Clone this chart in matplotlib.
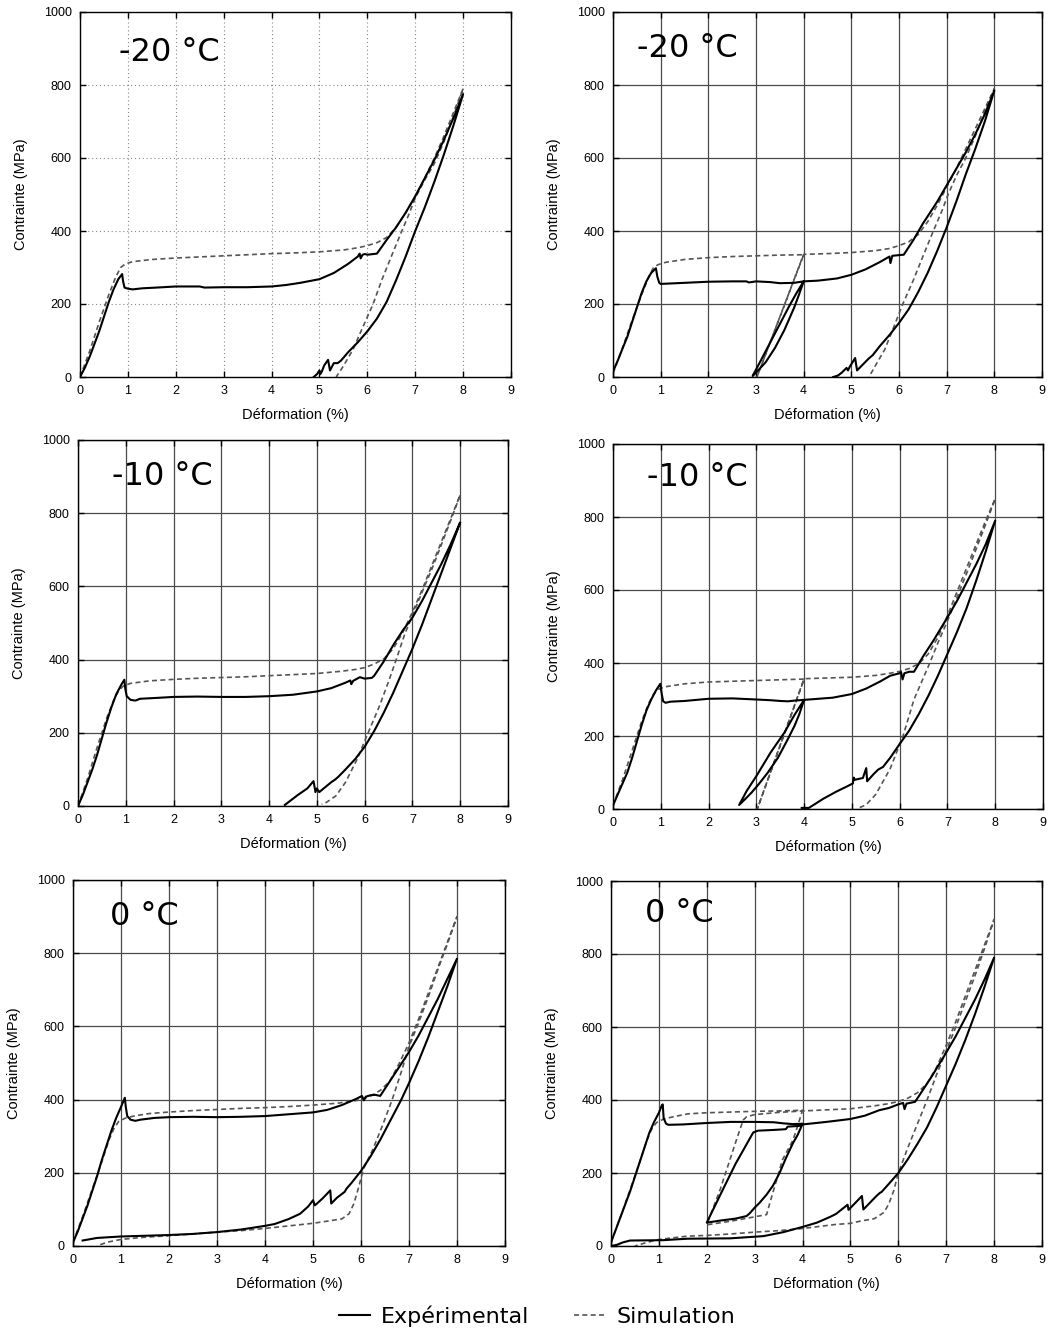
import matplotlib
matplotlib.use('Agg')
import matplotlib.pyplot as plt
from matplotlib.lines import Line2D

# ---- data (strain %, stress MPa) ----
panel_titles = ['-20 °C', '-20 °C', '-10 °C', '-10 °C', '0 °C', '0 °C']

# -20 C, one cycle
p1_exp_x = [0, 0.1, 0.2, 0.3, 0.4, 0.5, 0.6, 0.7, 0.8, 0.88, 0.9, 0.93, 1.0, 1.1, 1.3, 1.6, 2.0, 2.5, 2.6, 3.0, 3.5, 4.0,
            4.3, 4.6, 5.0, 5.3, 5.6, 5.8, 5.84, 5.86, 5.9, 5.95, 6.0, 6.2, 6.4, 6.6, 6.8, 7.0, 7.2, 7.4, 7.6, 7.8, 8.0,
            7.8, 7.6, 7.4, 7.2, 7.0, 6.8, 6.6, 6.4, 6.2, 6.0, 5.8, 5.6, 5.45, 5.38, 5.3, 5.22, 5.18, 5.1, 5.05, 5.02,
            5.0, 4.95, 4.88]
p1_exp_y = [0, 25, 55, 90, 125, 165, 205, 240, 268, 282, 262, 245, 242, 240, 243, 245, 248, 248, 245, 246, 246, 248,
            252, 258, 268, 285, 310, 330, 338, 325, 335, 337, 335, 338, 375, 410, 450, 495, 545, 595, 650, 710, 775,
            690, 610, 535, 465, 400, 330, 265, 205, 160, 125, 95, 68, 45, 38, 38, 18, 47, 32, 15, 8,
            18, 8, 0]
p1_sim_x = [0, 0.2, 0.4, 0.6, 0.75, 0.85, 0.95, 1.1, 1.5, 2.0, 2.5, 3.0, 3.5, 4.0, 4.5, 5.0, 5.5, 5.8, 6.0, 6.2, 6.4,
            6.6, 6.8, 7.0, 7.2, 7.4, 7.6, 7.8, 8.0,
            7.8, 7.6, 7.4, 7.2, 7.0, 6.85, 6.72, 6.5, 6.3, 6.12, 5.9, 5.7, 5.5, 5.35]
p1_sim_y = [0, 70, 150, 225, 275, 300, 310, 316, 322, 326, 329, 332, 335, 338, 340, 343, 348, 354, 360, 368, 382,
            410, 450, 495, 545, 600, 660, 725, 790,
            715, 645, 585, 540, 490, 440, 400, 330, 265, 200, 135, 75, 30, 0]

# -20 C, two cycles
p2_exp_x = [0, 0.1, 0.2, 0.3, 0.4, 0.5, 0.6, 0.7, 0.8, 0.9, 0.93, 0.97, 1.0, 1.5, 2.0, 2.5, 2.8, 2.85, 3.0, 3.3, 3.5,
            3.8, 4.0,
            3.9, 3.8, 3.6, 3.4, 3.2, 3.0, 2.93,
            3.1, 3.3, 3.5, 3.7, 3.85, 4.0,
            4.3, 4.7, 5.0, 5.3, 5.6, 5.8, 5.82, 5.86, 6.0, 6.1, 6.3, 6.5, 6.8, 7.0, 7.2, 7.4, 7.6, 7.8, 8.0,
            7.8, 7.6, 7.4, 7.2, 7.0, 6.8, 6.6, 6.4, 6.2, 6.0, 5.8, 5.6, 5.45, 5.36, 5.3, 5.12, 5.08, 5.0, 4.97,
            4.93, 4.9, 4.8, 4.72, 4.62]
p2_exp_y = [15, 45, 78, 110, 150, 190, 230, 262, 285, 298, 275, 258, 255, 258, 261, 262, 262, 259, 262, 260, 257,
            258, 262,
            225, 190, 130, 80, 40, 12, 3,
            45, 95, 145, 195, 230, 262,
            264, 270, 280, 295, 315, 330, 312, 332, 334, 335, 375, 420, 480, 525, 570, 615, 665, 720, 785,
            700, 625, 555, 480, 410, 345, 285, 232, 185, 148, 115, 85, 60, 50, 42, 18, 52, 35, 29,
            18, 25, 12, 4, 0]
p2_sim_x = [0, 0.2, 0.4, 0.6, 0.75, 0.85, 0.95, 1.1, 1.5, 2.0, 2.5, 3.0, 3.5, 4.0,
            3.02, 4.0,
            4.5, 5.0, 5.5, 5.8, 6.0, 6.2, 6.4, 6.6, 6.8, 7.0, 7.2, 7.4, 7.6, 7.8, 8.0,
            7.8, 7.6, 7.4, 7.2, 7.03, 6.9, 6.72, 6.5, 6.3, 6.08, 5.9, 5.7, 5.5, 5.37]
p2_sim_y = [10, 80, 155, 225, 275, 300, 308, 314, 322, 327, 330, 332, 334, 335,
            0, 336,
            338, 341, 346, 352, 360, 370, 390, 425, 470, 520, 570, 625, 680, 735, 790,
            725, 660, 600, 550, 500, 455, 400, 330, 265, 200, 140, 75, 30, 0]

# -10 C, one cycle
p3_exp_x = [0, 0.1, 0.2, 0.3, 0.4, 0.5, 0.6, 0.7, 0.8, 0.9, 0.97, 0.99, 1.02, 1.1, 1.2, 1.3, 1.6, 2.0, 2.5, 3.0, 3.5,
            4.0, 4.5, 5.0, 5.3, 5.6, 5.7, 5.72, 5.76, 5.9, 6.0, 6.15, 6.2, 6.4, 6.6, 6.8, 7.0, 7.2, 7.4, 7.6, 7.8, 8.0,
            7.8, 7.6, 7.4, 7.2, 7.0, 6.8, 6.6, 6.4, 6.2, 6.0, 5.8, 5.6, 5.45, 5.38, 5.3, 5.05, 5.0, 4.97, 4.93, 4.8,
            4.6, 4.33]
p3_exp_y = [0, 30, 65, 100, 140, 185, 230, 270, 305, 330, 345, 320, 300, 290, 288, 293, 295, 298, 299, 298, 298,
            300, 304, 313, 322, 337, 343, 333, 342, 352, 348, 350, 356, 395, 440, 480, 515, 560, 610, 660, 715, 775,
            705, 635, 565, 495, 430, 370, 310, 255, 205, 162, 128, 100, 80, 72, 65, 38, 48, 38, 68, 48,
            30, 3]
p3_sim_x = [0, 0.2, 0.4, 0.6, 0.75, 0.85, 0.95, 1.1, 1.5, 2.0, 2.5, 3.0, 3.5, 4.0, 4.5, 5.0, 5.5, 5.8, 6.0, 6.2, 6.4,
            6.6, 6.8, 7.0, 7.2, 7.4, 7.6, 7.8, 8.0,
            7.8, 7.6, 7.4, 7.22, 7.0, 6.84, 6.66, 6.5, 6.3, 6.04, 5.85, 5.6, 5.4, 5.2, 5.1]
p3_sim_y = [0, 75, 160, 240, 290, 315, 328, 335, 342, 346, 349, 351, 353, 356, 359, 362, 368, 373, 378, 388, 402,
            430, 475, 530, 590, 655, 720, 785, 850,
            780, 712, 645, 590, 520, 470, 400, 340, 270, 190, 130, 65, 28, 10, 5]

# -10 C, two cycles
p4_exp_x = [0, 0.1, 0.2, 0.3, 0.4, 0.5, 0.6, 0.7, 0.8, 0.9, 0.99, 1.02, 1.05, 1.1, 1.2, 1.5, 2.0, 2.5, 3.0, 3.3, 3.5,
            3.66, 3.8, 4.0,
            3.9, 3.8, 3.65, 3.45, 3.23, 3.05, 2.9, 2.75, 2.64,
            2.8, 3.0, 3.3, 3.59, 3.8, 4.0,
            4.3, 4.6, 5.0, 5.3, 5.6, 5.8, 6.0, 6.03, 6.06, 6.1, 6.2, 6.3, 6.5, 6.7, 7.0, 7.2, 7.4, 7.6, 7.8, 8.0,
            7.8, 7.6, 7.4, 7.2, 7.0, 6.8, 6.6, 6.4, 6.2, 6.0, 5.8, 5.65, 5.55, 5.45, 5.32, 5.3, 5.23, 5.06, 5.04,
            5.02, 4.9, 4.68, 4.4, 4.1, 3.95]
p4_exp_y = [10, 40, 70, 100, 140, 185, 230, 270, 300, 325, 343, 315, 295, 291, 294, 296, 302, 303, 300, 298, 296,
            295, 297, 299,
            260, 228, 189, 140, 98, 68, 45, 25, 11,
            50, 90, 155, 210, 258, 299,
            302, 305, 315, 330, 350, 365, 372, 375, 355, 372, 376, 376, 420, 460, 525, 570, 620, 670, 725, 790,
            705, 625, 550, 485, 425, 365, 310, 260, 215, 178, 140, 115, 108, 95, 76, 112, 85, 80, 86,
            70, 62, 48, 28, 3, 3]
p4_sim_x = [0, 0.2, 0.4, 0.6, 0.75, 0.85, 0.95, 1.1, 1.5, 2.0, 2.5, 3.0, 3.5, 4.0,
            3.02, 4.0,
            4.5, 5.0, 5.5, 5.8, 6.0, 6.2, 6.4, 6.6, 6.8, 7.0, 7.2, 7.4, 7.6, 7.8, 8.0,
            7.8, 7.6, 7.4, 7.2, 7.0, 6.8, 6.63, 6.3, 6.07, 5.8, 5.5, 5.3, 5.1]
p4_sim_y = [10, 80, 160, 240, 290, 315, 328, 335, 343, 348, 350, 352, 354, 356,
            0, 357,
            359, 361, 366, 372, 377, 385, 398, 425, 470, 530, 595, 660, 725, 790, 850,
            780, 712, 645, 580, 515, 455, 400, 300, 200, 110, 40, 12, 0]

# 0 C, one cycle
p5_exp_x = [0, 0.1, 0.2, 0.3, 0.4, 0.5, 0.6, 0.7, 0.8, 0.9, 1.0, 1.08, 1.1, 1.13, 1.2, 1.3, 1.4, 1.7, 2.0, 2.5, 3.0,
            3.5, 4.0, 4.5, 5.0, 5.3, 5.6, 5.9, 6.02, 6.06, 6.1, 6.2, 6.3, 6.4, 6.6, 6.8, 7.0, 7.2, 7.4, 7.6, 7.8, 8.0,
            7.8, 7.6, 7.4, 7.2, 7.0, 6.84, 6.6, 6.4, 6.2, 6.0, 5.8, 5.7, 5.66, 5.5, 5.38, 5.36, 5.2, 5.04, 5.0, 4.9,
            4.73, 4.5, 4.2, 4.0, 3.5, 3.0, 2.5, 2.0, 1.5, 1.0, 0.5, 0.2]
p5_exp_y = [10, 40, 75, 110, 150, 190, 235, 275, 315, 350, 380, 405, 380, 355, 345, 342, 345, 350, 352, 353, 352,
            353, 355, 360, 365, 372, 385, 402, 410, 398, 408, 412, 413, 410, 450, 490, 530, 575, 625, 675, 730, 785,
            710, 640, 570, 505, 445, 400, 340, 290, 245, 205, 172, 157, 148, 132, 116, 152, 130, 111, 125, 108,
            88, 74, 60, 55, 45, 38, 33, 30, 28, 26, 22, 15]
p5_sim_x = [0, 0.2, 0.4, 0.6, 0.75, 0.85, 0.95, 1.1, 1.3, 1.6, 2.0, 2.5, 3.0, 3.5, 4.0, 4.5, 5.0, 5.5, 5.8, 6.0, 6.2,
            6.4, 6.6, 6.8, 7.0, 7.2, 7.4, 7.6, 7.8, 8.0,
            7.8, 7.6, 7.4, 7.2, 7.0, 6.85, 6.65, 6.45, 6.25, 6.05, 5.95, 5.85, 5.75, 5.6, 5.2, 5.0, 4.5, 4.0, 3.5,
            3.0, 2.5, 2.0, 1.5, 1.0, 0.7, 0.5]
p5_sim_y = [10, 80, 155, 230, 290, 320, 340, 350, 356, 362, 366, 370, 373, 376, 378, 381, 385, 390, 395, 400, 410,
            425, 450, 500, 555, 620, 690, 760, 830, 900,
            825, 755, 680, 610, 545, 480, 400, 330, 265, 210, 160, 115, 88, 74, 66, 62, 55, 48, 42,
            38, 33, 28, 24, 18, 10, 0]

# 0 C, two cycles
p6_exp_x = [0, 0.1, 0.2, 0.3, 0.4, 0.5, 0.6, 0.7, 0.8, 0.9, 1.0, 1.06, 1.08, 1.1, 1.15, 1.2, 1.5, 2.0, 2.5, 3.0, 3.4,
            3.6, 3.8, 4.0,
            3.9, 3.8, 3.65, 3.52, 3.38, 3.25, 3.1, 3.0, 2.9, 2.83, 2.6, 2.3, 2.0,
            2.3, 2.6, 2.97, 3.07, 3.4, 3.65, 3.69, 3.93, 4.0,
            4.5, 5.0, 5.3, 5.6, 5.8, 6.0, 6.1, 6.13, 6.17, 6.35, 6.5, 6.7, 7.0, 7.2, 7.4, 7.6, 7.8, 8.0,
            7.8, 7.6, 7.4, 7.2, 7.0, 6.8, 6.6, 6.4, 6.2, 6.0, 5.8, 5.65, 5.62, 5.55, 5.27, 5.24, 5.1, 4.96, 4.94,
            4.7, 4.58, 4.3, 4.02, 3.6, 3.18, 2.49, 1.6, 1.09, 0.4, 0.25, 0.12, 0]
p6_exp_y = [10, 45, 80, 115, 150, 190, 230, 270, 310, 340, 365, 385, 388, 350, 335, 332, 333, 337, 340, 340, 339,
            336, 334, 335,
            305, 282, 240, 200, 165, 141, 118, 105, 90, 82, 75, 70, 64,
            145, 225, 311, 316, 318, 320, 327, 329, 333,
            340, 348, 357, 372, 378, 388, 392, 375, 390, 395, 425, 465, 530, 575, 625, 675, 730, 790,
            710, 635, 565, 500, 440, 380, 325, 280, 238, 200, 170, 148, 146, 138, 100, 137, 118, 99, 113,
            88, 80, 64, 53, 38, 27, 21, 20, 16, 15, 10, 3, 0]
p6_sim_x = [0, 0.2, 0.4, 0.6, 0.75, 0.85, 0.95, 1.1, 1.3, 1.6, 2.0, 2.5, 3.0, 3.5, 4.0,
            3.9, 3.8, 3.58, 3.4, 3.3, 3.25, 3.0, 2.5, 2.0,
            2.28, 2.62, 2.76, 2.83, 3.0, 3.5, 4.0,
            4.5, 5.0, 5.5, 5.8, 6.0, 6.2, 6.4, 6.6, 6.8, 7.0, 7.2, 7.4, 7.6, 7.8, 8.0,
            7.8, 7.6, 7.4, 7.2, 7.0, 6.8, 6.6, 6.4, 6.2, 6.0, 5.9, 5.8, 5.7, 5.5, 5.2, 5.0, 4.69, 4.0, 3.5, 3.0,
            2.5, 2.0, 1.6, 1.0, 0.7, 0.5]
p6_sim_y = [10, 80, 155, 230, 290, 320, 338, 348, 354, 362, 365, 367, 369, 370, 372,
            330, 290, 236, 155, 110, 86, 80, 68, 58,
            155, 291, 345, 354, 360, 366, 370,
            373, 376, 384, 390, 396, 405, 420, 445, 490, 550, 615, 685, 755, 825, 895,
            815, 740, 670, 600, 535, 470, 400, 335, 270, 200, 150, 115, 92, 75, 68, 62, 59, 48, 42, 38,
            33, 29, 27, 18, 8, 0]

exp_x = [p1_exp_x, p2_exp_x, p3_exp_x, p4_exp_x, p5_exp_x, p6_exp_x]
exp_y = [p1_exp_y, p2_exp_y, p3_exp_y, p4_exp_y, p5_exp_y, p6_exp_y]
sim_x = [p1_sim_x, p2_sim_x, p3_sim_x, p4_sim_x, p5_sim_x, p6_sim_x]
sim_y = [p1_sim_y, p2_sim_y, p3_sim_y, p4_sim_y, p5_sim_y, p6_sim_y]

# ---- figure ----
W, H = 1061, 1332
fig = plt.figure(figsize=(W / 100, H / 100), dpi=100)

# axes boxes in pixels: left, top, right, bottom
boxes = [(80, 12, 511, 377), (613, 12, 1042, 377),
         (78, 440, 508, 806), (613, 444, 1043, 809),
         (73, 880, 505, 1246), (611, 881, 1042, 1246)]
# where the temperature label starts, in data units
title_pos = [(0.82, 890), (0.5, 900), (0.72, 900), (0.72, 908), (0.77, 900), (0.72, 910)]

tick_font = 'Liberation Sans'
exp_style = dict(color='black', lw=1.5, solid_joinstyle='round')
sim_style = dict(color='#555555', lw=1.2, ls=(0, (3, 2)))

for i, (l, t, r, b) in enumerate(boxes):
    ax = fig.add_axes([l / W, 1 - b / H, (r - l) / W, (b - t) / H])
    ax.plot(sim_x[i], sim_y[i], **sim_style)
    ax.plot(exp_x[i], exp_y[i], **exp_style)
    ax.set_xlim(0, 9)
    ax.set_ylim(0, 1000)
    ax.set_xticks(range(0, 10))
    ax.set_yticks(range(0, 1001, 200))
    if i == 0:
        ax.grid(True, color='#888888', lw=0.8, ls=(0, (1, 2.5)))
    else:
        ax.grid(True, color='#4a4a4a', lw=0.9)
    ax.set_axisbelow(True)
    ax.tick_params(direction='in', top=True, right=True, length=4, width=1, pad=6, labelsize=9)
    for lab in ax.get_xticklabels() + ax.get_yticklabels():
        lab.set_fontfamily(tick_font)
    for sp in ax.spines.values():
        sp.set_linewidth(1)
    ax.set_xlabel('Déformation (%)', fontsize=10.5, family=tick_font, labelpad=8)
    ax.set_ylabel('Contrainte (MPa)', fontsize=10.5, family=tick_font, labelpad=11)
    tx, ty = title_pos[i]
    ax.text(tx, ty, panel_titles[i], fontsize=23, family='DejaVu Sans', ha='left', va='center')

handles = [Line2D([], [], **exp_style), Line2D([], [], **sim_style)]
fig.legend(handles, ['Expérimental', 'Simulation'], loc='center', bbox_to_anchor=(537 / W, 16 / H),
           ncol=2, frameon=False, handlelength=1.4, handletextpad=0.5, columnspacing=2.0,
           prop={'family': 'DejaVu Sans', 'size': 16})

plt.savefig('out.png', dpi=100)
